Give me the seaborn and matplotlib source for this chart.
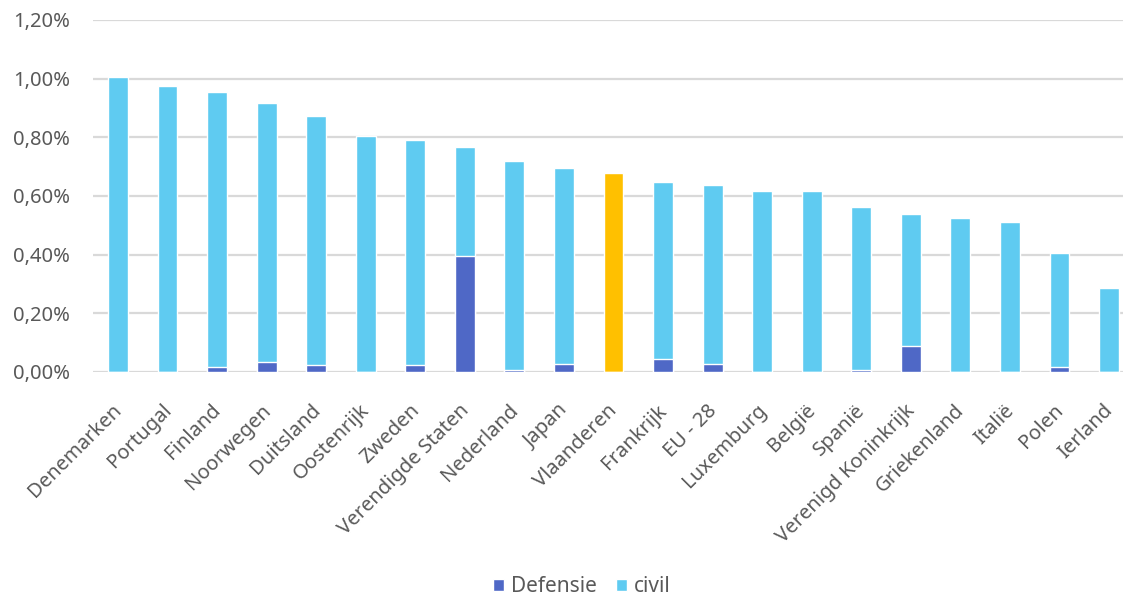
import matplotlib
matplotlib.use("Agg")
import matplotlib.pyplot as plt
import matplotlib.transforms as mtransforms
import seaborn as sns
import pandas as pd
from matplotlib.patches import Patch
from matplotlib.ticker import FuncFormatter

# ---- data (percent of GDP) ----
landen = ["Denemarken", "Portugal", "Finland", "Noorwegen", "Duitsland",
          "Oostenrijk", "Zweden", "Verendigde Staten", "Nederland", "Japan",
          "Vlaanderen", "Frankrijk", "EU - 28", "Luxemburg", "België",
          "Spanië", "Verenigd Koninkrijk", "Griekenland", "Italië", "Polen",
          "Ierland"]
defensie = [0.000, 0.001, 0.018, 0.035, 0.025,
            0.000, 0.025, 0.394, 0.007, 0.028,
            0.000, 0.045, 0.027, 0.000, 0.000,
            0.007, 0.089, 0.000, 0.000, 0.018,
            0.000]
civil = [1.006, 0.975, 0.938, 0.882, 0.849,
         0.805, 0.767, 0.373, 0.713, 0.668,
         0.679, 0.603, 0.610, 0.618, 0.617,
         0.555, 0.451, 0.524, 0.510, 0.389,
         0.288]
y_ticks = [0.0, 0.2, 0.4, 0.6, 0.8, 1.0, 1.2]
highlight = "Vlaanderen"

CIVIL = "#5FCBF1"
DEF = "#4F68C6"
GOLD = "#FFC000"
GRID = "#D9D9D9"
TEXT = "#595959"

df = pd.DataFrame({"land": landen, "defensie": defensie, "civil": civil})
df["totaal"] = df["defensie"] + df["civil"]

sns.set_theme(style="white")
plt.rcParams["font.family"] = ["Noto Sans", "DejaVu Sans"]

W, H = 1123, 598
fig = plt.figure(figsize=(W / 100, H / 100), dpi=100)
n = len(landen)
step = (1109 - 118) / (n - 1)
left = 118 - step / 2
ax = fig.add_axes([left / W, (H - 372) / H, n * step / W, 352 / H])

pal = {l: (GOLD if l == highlight else CIVIL) for l in landen}
sns.barplot(data=df, x="land", y="totaal", hue="land", palette=pal,
            legend=False, width=0.40, saturation=1, ax=ax, zorder=3)
sns.barplot(data=df, x="land", y="defensie", color=DEF,
            width=0.40, saturation=1, ax=ax, zorder=4)

ax.set_xlim(-0.5, n - 0.5)
ax.set_ylim(0, 1.2)
ax.set_yticks(y_ticks)
ax.yaxis.set_major_formatter(FuncFormatter(lambda v, p: f"{v:.2f}".replace(".", ",") + "%"))
ax.grid(axis="y", color=GRID, linewidth=1.6, zorder=0)
ax.set_axisbelow(True)
for s in ax.spines.values():
    s.set_visible(False)
ax.set_xlabel("")
ax.set_ylabel("")
ax.tick_params(axis="y", length=0, pad=16.5, labelsize=14.5, labelcolor=TEXT)
ax.tick_params(axis="x", length=0, pad=9, labelsize=14.5, labelcolor=TEXT)
shift = mtransforms.ScaledTranslation(-6 / 100, -16 / 100, fig.dpi_scale_trans)
for lab in ax.get_xticklabels():
    lab.set_rotation(45)
    lab.set_ha("right")
    lab.set_rotation_mode("anchor")
    lab.set_transform(lab.get_transform() + shift)

handles = [Patch(facecolor=DEF, label="Defensie"), Patch(facecolor=CIVIL, label="civil")]
fig.legend(handles=handles, loc="center", bbox_to_anchor=(582 / W, 1 - 587 / H),
           ncol=2, frameon=False, fontsize=15, labelcolor=TEXT,
           handlelength=0.55, handleheight=0.55, handletextpad=0.33, columnspacing=0.9)

fig.savefig("out.png", dpi=100)
